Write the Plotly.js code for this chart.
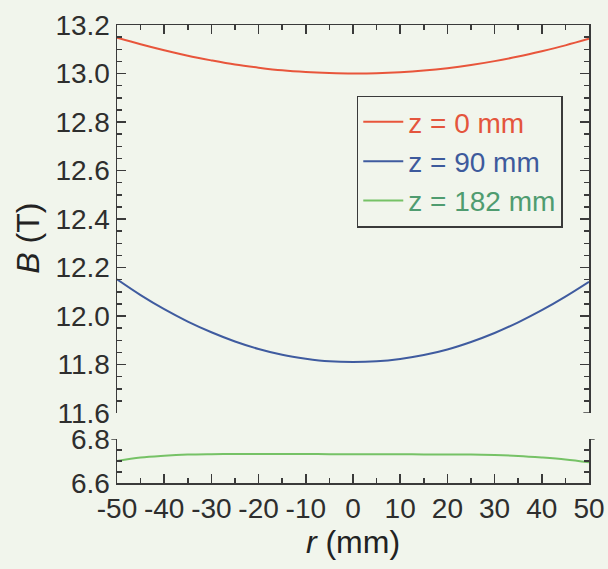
<!DOCTYPE html>
<html>
<head>
<meta charset="utf-8">
<script src="https://cdn.plot.ly/plotly-3.0.1.min.js"></script>
<style>
html,body{margin:0;padding:0;background:#f1f5ec;}
#chart{width:608px;height:569px;}
</style>
</head>
<body>
<div id="chart"></div>
<script>
// r positions (mm)
const r = [-50,-45,-40,-35,-30,-25,-20,-15,-10,-5,0,5,10,15,20,25,30,35,40,45,50];
// B (T) at z = 0 mm
const b_z0 = [13.148,13.121,13.096,13.073,13.054,13.037,13.024,13.013,13.006,13.002,13.000,13.001,13.005,13.012,13.022,13.035,13.051,13.070,13.092,13.116,13.143];
// B (T) at z = 90 mm
const b_z90 = [12.151,12.086,12.028,11.977,11.933,11.895,11.864,11.840,11.824,11.813,11.810,11.813,11.823,11.839,11.862,11.893,11.930,11.974,12.024,12.080,12.141];
// B (T) at z = 182 mm
const b_z182 = [6.700,6.716,6.724,6.729,6.731,6.732,6.732,6.732,6.732,6.731,6.731,6.731,6.731,6.730,6.730,6.729,6.727,6.723,6.716,6.707,6.694];
const seriesNames = ['z = 0 mm','z = 90 mm','z = 182 mm'];
const xTickVals = [-50,-40,-30,-20,-10,0,10,20,30,40,50];
const upperTicks = [11.6,11.8,12.0,12.2,12.4,12.6,12.8,13.0,13.2];
const lowerTicks = [6.6,6.8];

const lineCol = ['#e8553b','#3f5b9f','#76c266'];
const textCol = ['#e4553d','#3d5a9c','#4f9c70'];
const axCol = '#3a3a3a';
const family = 'Liberation Sans, Arial, Helvetica, sans-serif';
const fnt = {family:family, size:28, color:'#2e2e2e'};

const traces = [
  {x:r, y:b_z0, xaxis:'x2', yaxis:'y2', mode:'lines', line:{color:lineCol[0], width:2, shape:'spline'},
   name:'<span style="color:'+textCol[0]+'">'+seriesNames[0]+'</span>'},
  {x:r, y:b_z90, xaxis:'x2', yaxis:'y2', mode:'lines', line:{color:lineCol[1], width:2, shape:'spline'},
   name:'<span style="color:'+textCol[1]+'">'+seriesNames[1]+'</span>'},
  {x:r, y:b_z182, xaxis:'x', yaxis:'y', mode:'lines', line:{color:lineCol[2], width:2, shape:'spline'},
   name:'<span style="color:'+textCol[2]+'">'+seriesNames[2]+'</span>'}
];

const common = {showline:true, linecolor:axCol, linewidth:1.5, ticks:'inside', ticklen:9, tickwidth:1.5, tickcolor:axCol,
  showgrid:false, zeroline:false, tickfont:fnt};
const minorX = {dtick:5, ticklen:5, tickwidth:1.5, tickcolor:axCol, ticks:'inside'};

const brk = (x0,x1,yref,y) => ({type:'line', xref:'paper', yref:yref, x0:x0, x1:x1, y0:y, y1:y, line:{color:axCol, width:1.5}});

const layout = {
  width:608, height:569,
  margin:{l:117, r:19, t:25, b:86},
  paper_bgcolor:'#f1f5ec', plot_bgcolor:'#f1f5ec',
  font:fnt,
  showlegend:true,
  legend:{x:0.508, y:0.846, xanchor:'left', yanchor:'top', bgcolor:'rgba(0,0,0,0)',
    bordercolor:axCol, borderwidth:1.5, font:{family:family, size:28, color:'#333'},
    tracegroupgap:0, itemwidth:40},
  xaxis:Object.assign({}, common, {anchor:'y', range:[-50,50], tickvals:xTickVals, ticktext:xTickVals.map(String),
    minor:minorX,
    title:{text:'<i>r</i> (mm)', font:{family:family, size:32, color:'#222'}, standoff:4}}),
  xaxis2:Object.assign({}, common, {anchor:'y2', side:'top', matches:'x', range:[-50,50], tickvals:xTickVals, showticklabels:false,
    minor:minorX}),
  yaxis:Object.assign({}, common, {domain:[0,0.0961], range:[6.6,6.8], tickvals:lowerTicks, ticktext:['6.6','6.8'], mirror:'ticks',
    minor:{dtick:0.05, tick0:6.6, ticklen:5, tickwidth:1.5, tickcolor:axCol, ticks:'inside'}}),
  yaxis2:Object.assign({}, common, {domain:[0.1528,1], range:[11.6,13.2], tickvals:upperTicks, ticktext:upperTicks.map(v=>v.toFixed(1)), mirror:'ticks',
    minor:{dtick:0.05, tick0:11.6, ticklen:5, tickwidth:1.5, tickcolor:axCol, ticks:'inside'}}),
  annotations:[{xref:'paper', yref:'paper', x:-0.189, y:0.535, xanchor:'center', yanchor:'middle', textangle:-90,
    showarrow:false, text:'<i>B</i> (T)', font:{family:family, size:32, color:'#222'}}],
  shapes:[
    brk(-0.012, 0.0, 'y', 6.8),
    brk(1.0, 1.012, 'y', 6.8),
    brk(0.988, 1.0, 'y2', 11.6)
  ]
};

Plotly.newPlot('chart', traces, layout, {staticPlot:true, displayModeBar:false});
</script>
</body>
</html>
